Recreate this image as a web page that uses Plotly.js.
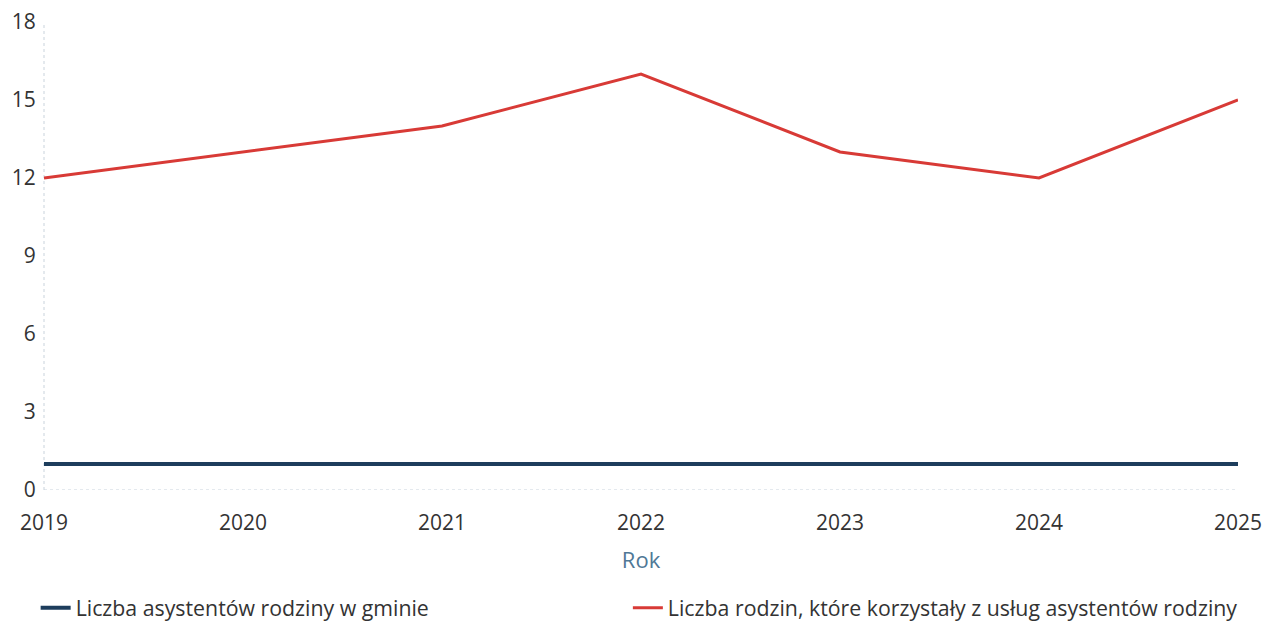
<!DOCTYPE html>
<html>
<head>
<meta charset="utf-8">
<script src="https://cdn.plot.ly/plotly-3.0.1.min.js"></script>
<style>html,body{margin:0;padding:0;background:#fff;}#chart{width:1263px;height:625px;}</style>
</head>
<body>
<div id="chart"></div>
<script>
const years = [2019, 2020, 2021, 2022, 2023, 2024, 2025];
const asystenci = [1, 1, 1, 1, 1, 1, 1];
const rodziny = [12, 13, 14, 16, 13, 12, 15];
const seriesNames = ["Liczba asystentów rodziny w gminie", "Liczba rodzin, które korzystały z usług asystentów rodziny"];
const yTicks = [0, 3, 6, 9, 12, 15, 18];

const traces = [
  {x: years, y: asystenci, name: seriesNames[0], type: "scatter", mode: "lines",
   line: {color: "#1d3d5c", width: 4}, legend: "legend"},
  {x: years, y: rodziny, name: seriesNames[1], type: "scatter", mode: "lines",
   line: {color: "#d83a36", width: 3}, legend: "legend2"}
];

const legendFont = {size: 21.3, color: "#333333"};

const layout = {
  width: 1263, height: 625,
  margin: {l: 44, r: 25, t: 22, b: 135, autoexpand: false},
  paper_bgcolor: "#ffffff", plot_bgcolor: "#ffffff",
  font: {family: "Open Sans", color: "#333333", size: 21},
  showlegend: true,
  legend: {orientation: "h", x: -0.007, xanchor: "left", y: -0.252, yanchor: "middle",
           bgcolor: "rgba(0,0,0,0)", font: legendFont},
  legend2: {orientation: "h", x: 0.489, xanchor: "left", y: -0.252, yanchor: "middle",
           bgcolor: "rgba(0,0,0,0)", font: legendFont},
  xaxis: {range: [2019, 2025], tickvals: years, ticktext: years.map(String),
          showgrid: false, zeroline: false, showline: false,
          ticks: "outside", ticklen: 14, tickcolor: "rgba(0,0,0,0)",
          tickfont: {size: 21, color: "#333333"},
          title: {text: "Rok", font: {size: 22, color: "#4f7896"}, standoff: 17}},
  yaxis: {range: [0, 18], tickvals: yTicks, showgrid: false, zeroline: false, showline: false,
          ticks: "outside", ticklen: 3, tickcolor: "rgba(0,0,0,0)",
          tickfont: {size: 21, color: "#333333"}},
  shapes: [
    {type: "line", xref: "paper", yref: "y", x0: 0, x1: 1, y0: 0, y1: 0,
     line: {color: "#c9d3dc", width: 1, dash: "dot"}, layer: "below"},
    {type: "line", xref: "paper", yref: "paper", x0: 0, x1: 0, y0: 0, y1: 1,
     line: {color: "#c9d3dc", width: 1, dash: "dot"}, layer: "below"}
  ]
};

Plotly.newPlot("chart", traces, layout, {displayModeBar: false, staticPlot: true});
</script>
</body>
</html>
